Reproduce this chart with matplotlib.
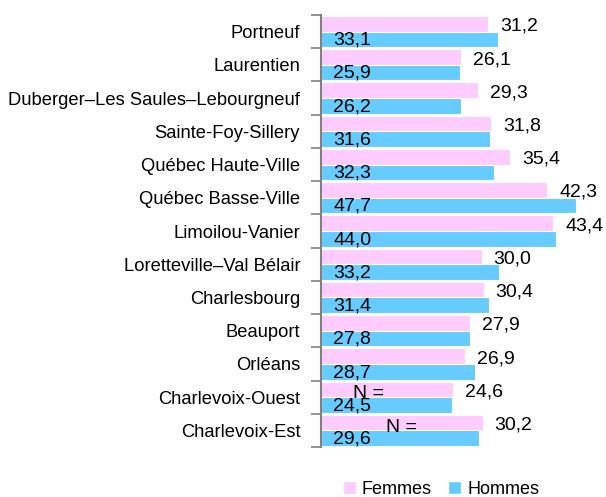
import matplotlib
matplotlib.use("Agg")
import matplotlib.pyplot as plt
from matplotlib.patches import Patch
from matplotlib.transforms import offset_copy
import numpy as np

plt.rcParams['font.family'] = ['Liberation Sans', 'DejaVu Sans']

categories = ["Portneuf", "Laurentien", "Duberger\u2013Les Saules\u2013Lebourgneuf",
              "Sainte-Foy-Sillery", "Québec Haute-Ville", "Québec Basse-Ville",
              "Limoilou-Vanier", "Loretteville\u2013Val Bélair", "Charlesbourg",
              "Beauport", "Orléans", "Charlevoix-Ouest", "Charlevoix-Est"]
femmes = [31.2, 26.1, 29.3, 31.8, 35.4, 42.3, 43.4, 30.0, 30.4, 27.9, 26.9, 24.6, 30.2]
hommes = [33.1, 25.9, 26.2, 31.6, 32.3, 47.7, 44.0, 33.2, 31.4, 27.8, 28.7, 24.5, 29.6]
n_notes = [(11, 6.0, "N ="), (12, 12.2, "N =")]

pink = "#FFCCFF"
blue = "#66CCFF"
grey = "#808080"

fig = plt.figure(figsize=(6.06, 4.97), dpi=100)
ax = fig.add_axes([321/606, 1-447/497, 267.5/606, 432/497])

y = np.arange(len(categories))
h = 0.47
ax.barh(y - 0.235, femmes, height=h, color=pink, edgecolor="white", linewidth=0.8)
ax.barh(y + 0.235, hommes, height=h, color=blue, edgecolor="white", linewidth=0.8)

ax.set_xlim(0, 50)
ax.set_ylim(len(categories) - 0.5, -0.5)

ax.set_yticks(y)
ax.set_yticklabels(categories, fontsize=13.2)
ax.tick_params(axis="y", which="major", length=0, pad=15)
ax.set_yticks(np.arange(len(categories) + 1) - 0.5, minor=True)
ax.tick_params(axis="y", which="minor", length=7, width=1.2, color=grey, direction="out")
ax.set_xticks([])
for s in ["top", "right", "bottom"]:
    ax.spines[s].set_visible(False)
ax.spines["left"].set_color(grey)
ax.spines["left"].set_linewidth(1.5)

tr_f = offset_copy(ax.transData, fig=fig, x=12, y=0, units="dots")
for i, v in enumerate(femmes):
    ax.text(v, i - 0.16, f"{v:.1f}".replace(".", ","), transform=tr_f,
            ha="left", va="center", fontsize=14)
for i, v in enumerate(hommes):
    ax.text(0, i + 0.26, f"{v:.1f}".replace(".", ","), transform=tr_f,
            ha="left", va="center", fontsize=14)
for i, xv, t in n_notes:
    ax.text(xv, i - 0.1, t, ha="left", va="center", fontsize=14)

handles = [Patch(facecolor=pink, edgecolor="white"), Patch(facecolor=blue, edgecolor="white")]
fig.legend(handles, ["Femmes", "Hommes"], loc="center left",
           bbox_to_anchor=(343/606, 1-489/497), ncol=2, frameon=False,
           fontsize=13, handlelength=0.7, handleheight=0.7, handletextpad=0.35,
           columnspacing=0.9, borderpad=0, borderaxespad=0)

fig.savefig("out.png", dpi=100)
